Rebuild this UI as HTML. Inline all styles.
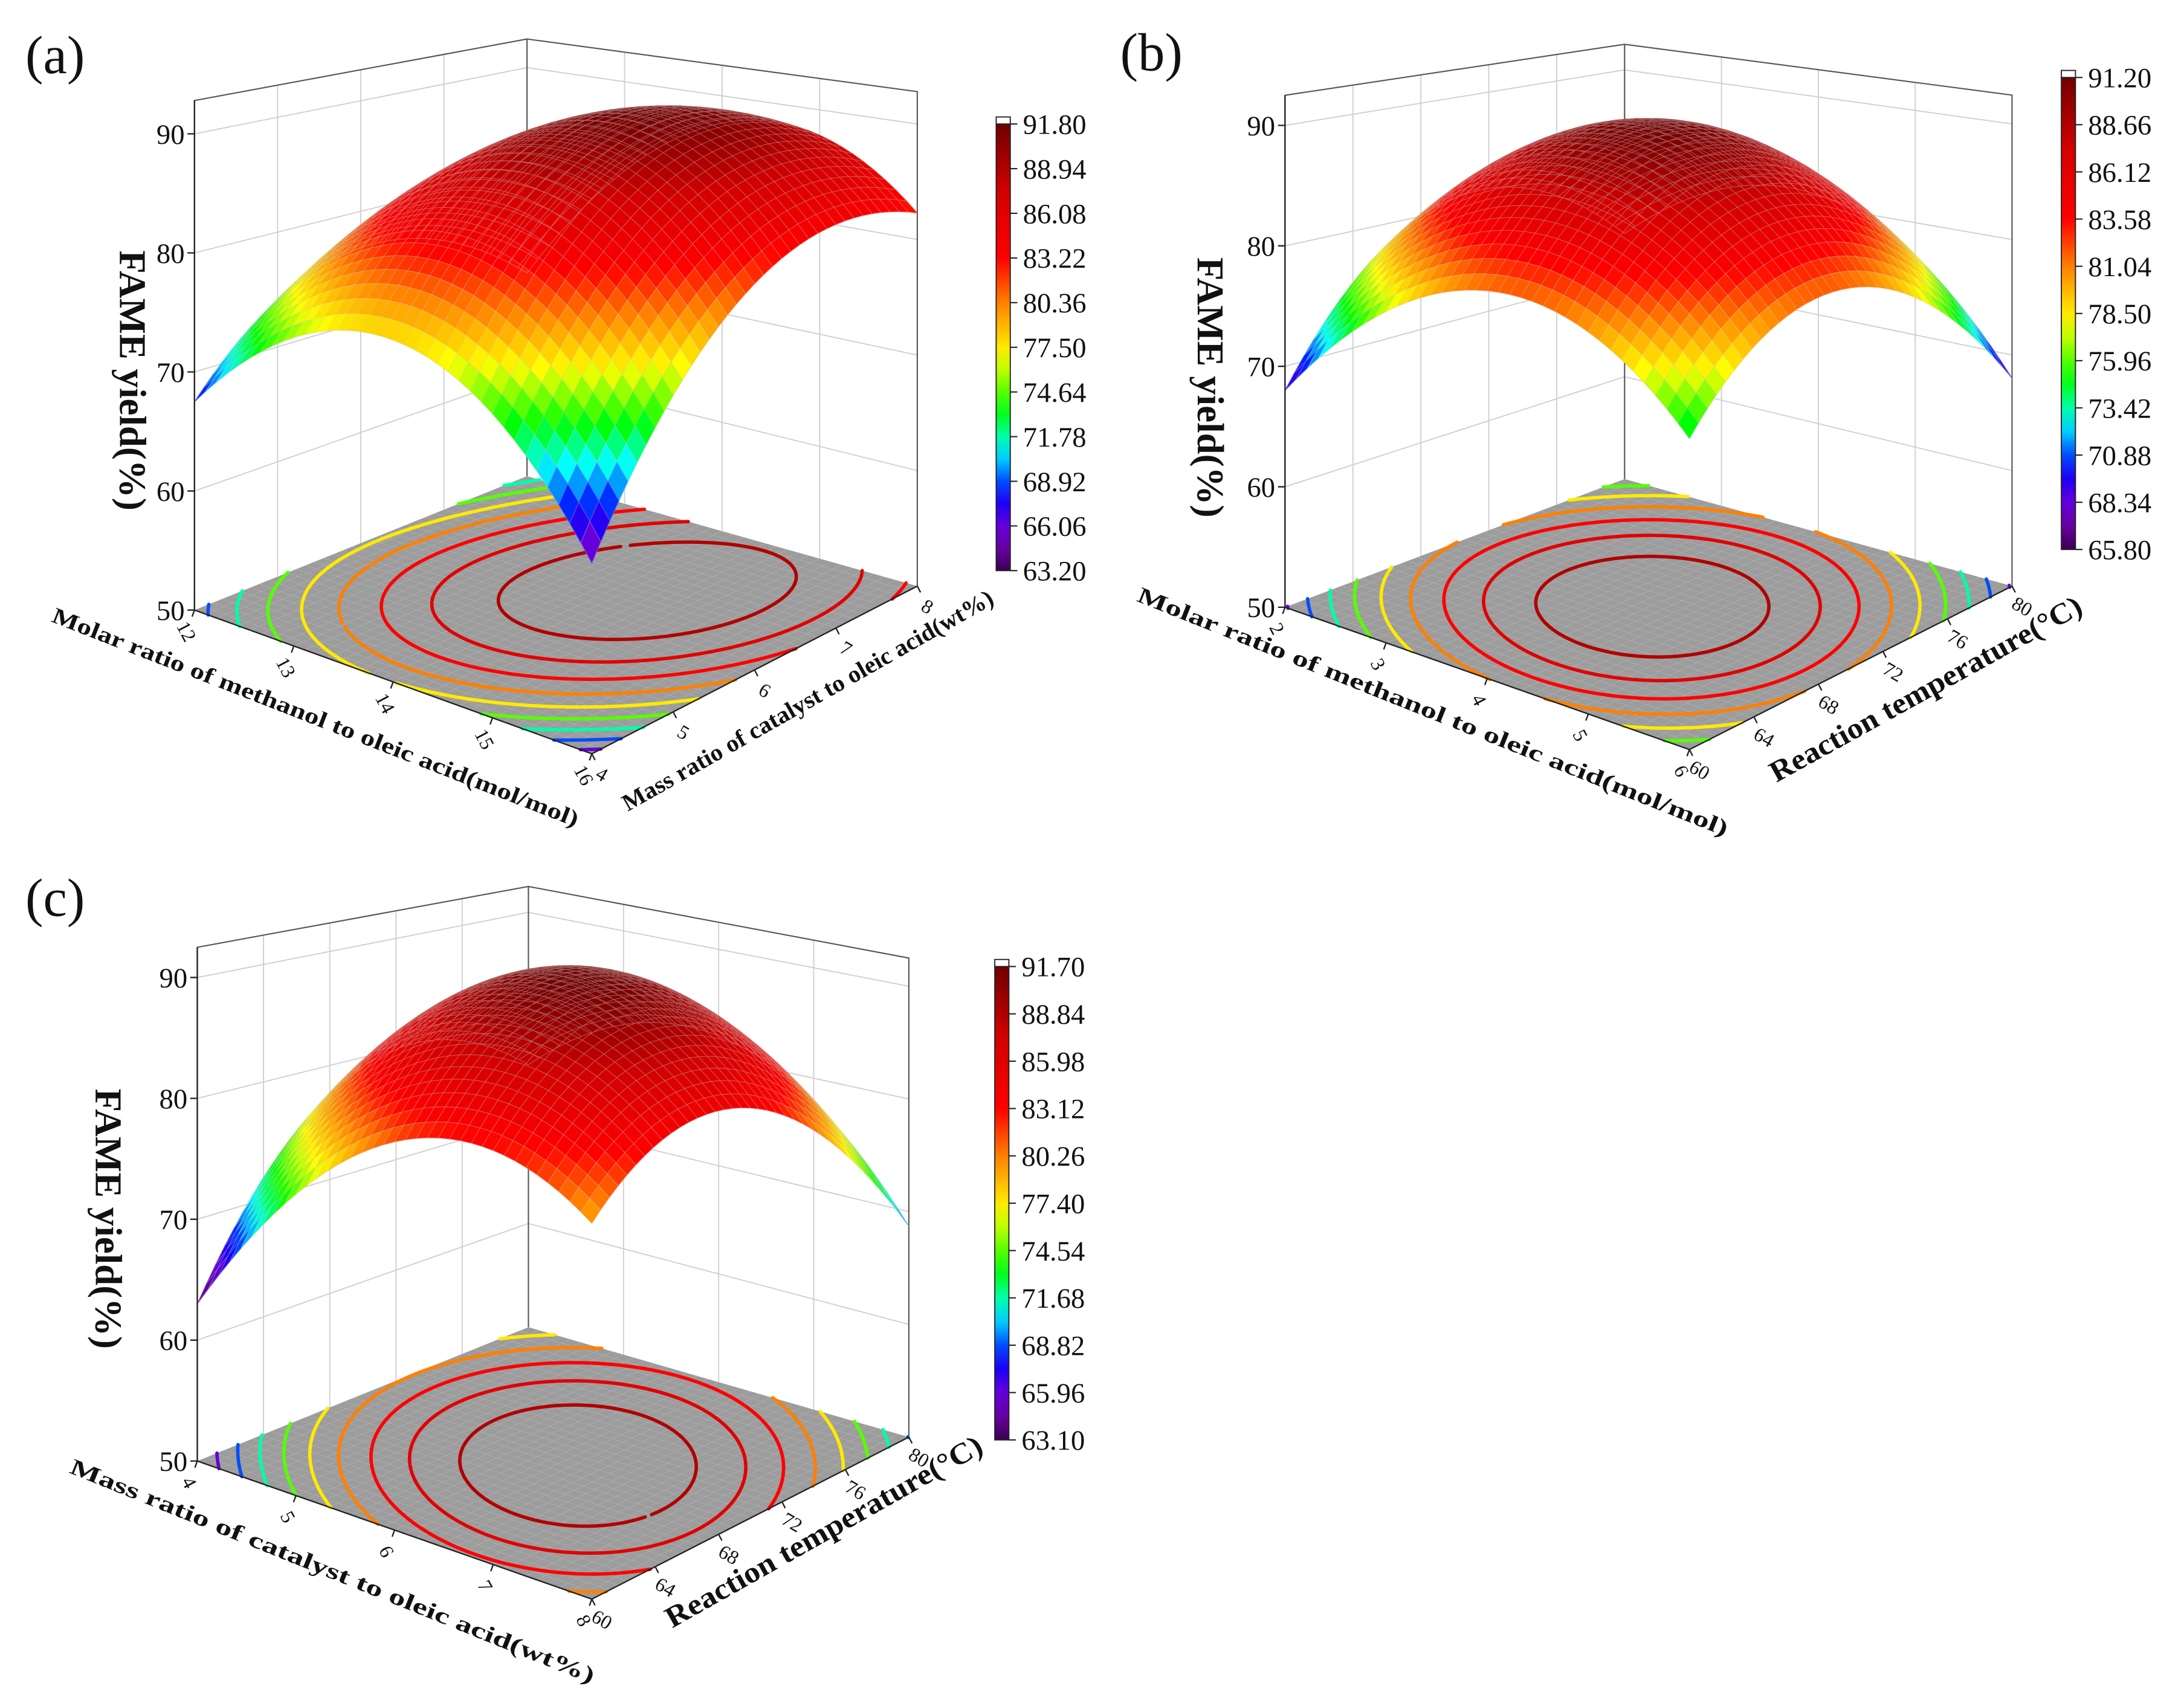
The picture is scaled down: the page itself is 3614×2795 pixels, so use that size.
<!DOCTYPE html>
<html><head><meta charset="utf-8"><style>
html,body{margin:0;padding:0;background:#fff;}
svg{display:block;}
text{font-family:"Liberation Serif",serif;fill:#111;}
</style></head><body>
<svg id="fig" xmlns="http://www.w3.org/2000/svg" width="3614" height="2795" viewBox="0 0 1550 1198.8">
<defs id="defs"></defs>
<rect width="1550" height="1198.8" fill="#fff"/>
</svg>
<script>
// ---- data ----
const aCoef = [90.5, 2.4, 5, -11.4, -8, 3.8];
const bCoef = [91, 0, 0, -10, -10, -3];
const cCoef = [91.5, 2.35, 0.5, -10, -10, -5.65];
const aBarTicks = ["63.20","66.06","68.92","71.78","74.64","77.50","80.36","83.22","86.08","88.94","91.80"];
const bBarTicks = ["65.80","68.34","70.88","73.42","75.96","78.50","81.04","83.58","86.12","88.66","91.20"];
const cBarTicks = ["63.10","65.96","68.82","71.68","74.54","77.40","80.26","83.12","85.98","88.84","91.70"];
const aUTicks = ["12","13","14","15","16"];
const aVTicks = ["4","5","6","7","8"];
const bUTicks = ["2","3","4","5","6"];
const bVTicks = ["60","64","68","72","76","80"];
const cUTicks = ["4","5","6","7","8"];
const cVTicks = ["60","64","68","72","76","80"];
const zTicks = [50,60,70,80,90];

const NS="http://www.w3.org/2000/svg";
const svg=document.getElementById('fig');
const defs=document.getElementById('defs');
function el(tag,attrs,parent){const e=document.createElementNS(NS,tag);for(const k in attrs)e.setAttribute(k,attrs[k]);(parent||svg).appendChild(e);return e;}

const cmapStops=[[0,[60,0,80]],[0.08,[128,0,208]],[0.17,[0,0,255]],[0.27,[0,255,255]],[0.36,[0,255,0]],[0.48,[255,255,0]],[0.6,[255,128,0]],[0.7,[255,0,0]],[0.85,[210,0,0]],[1,[112,0,0]]];
function cmap(t){t=Math.max(0,Math.min(1,t));for(let i=1;i<cmapStops.length;i++){if(t<=cmapStops[i][0]){const a=cmapStops[i-1],b=cmapStops[i];const f=(t-a[0])/(b[0]-a[0]);const c=a[1].map((x,k)=>Math.round(x+(b[1][k]-x)*f));return `rgb(${c[0]},${c[1]},${c[2]})`;}}return 'rgb(112,0,0)';}

function drawPanel(id,P,coef,barTicks,uTicks,vTicks){
  const g=el('g',{});
  
  
  const zmax=P.zmax;
  const vmin=parseFloat(barTicks[0]),vmax=parseFloat(barTicks[barTicks.length-1]);
  const proj=(s,t,z)=>{
    const w=[(1-s)*(1-t),s*(1-t),s*t,(1-s)*t];
    const x=w[0]*P.L[0]+w[1]*P.F[0]+w[2]*P.R[0]+w[3]*P.B[0];
    const y=w[0]*P.L[1]+w[1]*P.F[1]+w[2]*P.R[1]+w[3]*P.B[1];
    const sc=w[0]*P.sc[0]+w[1]*P.sc[1]+w[2]*P.sc[2]+w[3]*P.sc[3];
    return [x,y-(z-50)*sc];
  };
  const f=(s,t)=>{const u=2*s-1,v=2*t-1;return coef[0]+coef[1]*u+coef[2]*v+coef[3]*u*u+coef[4]*v*v+coef[5]*u*v;};
  const pt=p=>p[0].toFixed(2)+','+p[1].toFixed(2);
  let d='';
  for(let i=0;i<uTicks.length;i++){const s=i/(uTicks.length-1);d+='M'+pt(proj(s,1,50))+'L'+pt(proj(s,1,zmax));}
  for(let i=0;i<vTicks.length;i++){const t=i/(vTicks.length-1);d+='M'+pt(proj(0,t,50))+'L'+pt(proj(0,t,zmax));}
  for(const z of zTicks){if(z===50)continue;d+='M'+pt(proj(0,0,z))+'L'+pt(proj(0,1,z))+'L'+pt(proj(1,1,z));}
  const wg=el('path',{d:d,stroke:'#cfcfcf','stroke-width':0.8,fill:'none'},g);
  
  
  const box=el('path',{d:'M'+pt(proj(0,0,50))+'L'+pt(proj(0,0,zmax))+'L'+pt(proj(0,1,zmax))+'L'+pt(proj(1,1,zmax))+'L'+pt(proj(1,1,50))+'M'+pt(proj(0,1,50))+'L'+pt(proj(0,1,zmax)),stroke:'#555','stroke-width':0.9,fill:'none'},g);
  
  
  const fl=el('path',{d:'M'+pt(proj(0,0,50))+'L'+pt(proj(1,0,50))+'L'+pt(proj(1,1,50))+'L'+pt(proj(0,1,50))+'Z',fill:'#9c9c9c',stroke:'none'},g);
  
  
  d='';
  for(let i=1;i<36;i++){const s=i/36;d+='M'+pt(proj(s,0,50))+'L'+pt(proj(s,1,50))+'M'+pt(proj(0,s,50))+'L'+pt(proj(1,s,50));}
  const fg=el('path',{d:d,stroke:'#adadad','stroke-width':0.4,fill:'none'},g);
  
  
  const n=120;const grid=[];
  for(let i=0;i<=n;i++){grid.push([]);for(let j=0;j<=n;j++)grid[i].push(f(i/n,j/n));}
  for(let k=1;k<barTicks.length-1;k++){
    const lv=parseFloat(barTicks[k]);let cd='';
    for(let i=0;i<n;i++)for(let j=0;j<n;j++){
      const c=[[i,j],[i+1,j],[i+1,j+1],[i,j+1]];const pts=[];
      for(let e=0;e<4;e++){const a=c[e],b=c[(e+1)%4];const va=grid[a[0]][a[1]],vb=grid[b[0]][b[1]];
        if((va-lv)*(vb-lv)<0){const r=(lv-va)/(vb-va);pts.push([(a[0]+(b[0]-a[0])*r)/n,(a[1]+(b[1]-a[1])*r)/n]);}}
      if(pts.length>=2){cd+='M'+pt(proj(pts[0][0],pts[0][1],50))+'L'+pt(proj(pts[1][0],pts[1][1],50));}
      if(pts.length===4){cd+='M'+pt(proj(pts[2][0],pts[2][1],50))+'L'+pt(proj(pts[3][0],pts[3][1],50));}
    }
    const cp=el('path',{d:cd,stroke:cmap((lv-vmin)/(vmax-vmin)),'stroke-width':2.4,fill:'none','stroke-linecap':'round'},g);
    
    
  }
  let ed='M'+pt(proj(0,0,50))+'L'+pt(proj(1,0,50))+'L'+pt(proj(1,1,50));
  const nU=[-0.34,0.94],nV=[0.46,0.89];
  uTicks.forEach((lab,i)=>{const s=i/(uTicks.length-1);const p=proj(s,0,50);ed+='M'+pt(p)+'L'+pt([p[0]+nU[0]*5,p[1]+nU[1]*5]);
    const tx=el('text',{x:p[0]+nU[0]*16,y:p[1]+nU[1]*16+5,'font-size':14,'text-anchor':'middle',transform:`rotate(62 ${p[0]+nU[0]*16} ${p[1]+nU[1]*16})`},g);tx.textContent=lab;
    
    });
  vTicks.forEach((lab,i)=>{const t=i/(vTicks.length-1);const p=proj(1,t,50);ed+='M'+pt(p)+'L'+pt([p[0]+nV[0]*5,p[1]+nV[1]*5]);
    const tx=el('text',{x:p[0]+nV[0]*16,y:p[1]+nV[1]*16+5,'font-size':14,'text-anchor':'middle',transform:`rotate(30 ${p[0]+nV[0]*16} ${p[1]+nV[1]*16})`},g);tx.textContent=lab;
    
    });
  const ep=el('path',{d:ed,stroke:'#222','stroke-width':1,fill:'none'},g);
  
  
  const N=36;const quads=[];
  for(let i=0;i<N;i++)for(let j=0;j<N;j++)quads.push([i,j,(i-j)]);
  quads.sort((a,b)=>a[2]-b[2]);
  for(const q of quads){
    const s0=q[0]/N,s1=(q[0]+1)/N,t0=q[1]/N,t1=(q[1]+1)/N;
    const z=[f(s0,t0),f(s1,t0),f(s1,t1),f(s0,t1)];
    const avg=(z[0]+z[1]+z[2]+z[3])/4;
    const col=cmap((avg-vmin)/(vmax-vmin));
    const qp=el('path',{d:'M'+pt(proj(s0,t0,z[0]))+'L'+pt(proj(s1,t0,z[1]))+'L'+pt(proj(s1,t1,z[2]))+'L'+pt(proj(s0,t1,z[3]))+'Z',fill:col,stroke:col,'stroke-width':0.5},g);
    
    
  }
  d='';
  for(let i=0;i<=N;i+=1){
    let a='',b='';
    for(let j=0;j<=N;j++){a+=(j?'L':'M')+pt(proj(i/N,j/N,f(i/N,j/N)));b+=(j?'L':'M')+pt(proj(j/N,i/N,f(j/N,i/N)));}
    d+=a+b;
  }
  const mesh=el('path',{d:d,stroke:'rgba(200,200,200,0.45)','stroke-width':0.45,fill:'none'},g);
  
  
  let zd='M'+pt(proj(0,0,50))+'L'+pt(proj(0,0,zmax));
  zTicks.forEach(z=>{const p=proj(0,0,z);zd+='M'+pt(p)+'L'+pt([p[0]-5,p[1]]);
    const tx=el('text',{x:p[0]-7,y:p[1]+7,'font-size':20,'text-anchor':'end'},g);tx.textContent=String(z);
    
    });
  const za=el('path',{d:zd,stroke:'#222','stroke-width':1,fill:'none'},g);
  
  
  const gid='grad'+id;const lg=el('linearGradient',{id:gid,x1:0,y1:1,x2:0,y2:0},defs);
  for(let k=0;k<=20;k++)el('stop',{offset:k/20,'stop-color':cmap(k/20)},lg);
  const cb=P.cb;
  const cr=el('rect',{x:cb[0],y:cb[1],width:10,height:cb[2]-cb[1],fill:`url(#${gid})`,stroke:'#222','stroke-width':0.8},g);
  
  
  const cap=el('rect',{x:cb[0],y:cb[1]-5,width:10,height:5,fill:'#fff',stroke:'#222','stroke-width':0.8},g);
  
  
  barTicks.forEach((lab,k)=>{const y=cb[2]-(cb[2]-cb[1])*k/(barTicks.length-1);
    const tk=el('line',{x1:cb[0]+10,y1:y,x2:cb[0]+15,y2:y,stroke:'#222','stroke-width':0.9},g);
    
    
    const tx=el('text',{x:cb[0]+19,y:y+7,'font-size':20},g);tx.textContent=lab;
    
    });
  const zt=el('text',{x:P.zt[0],y:P.zt[1],'font-size':27,'font-weight':'bold','text-anchor':'middle',transform:`rotate(90 ${P.zt[0]} ${P.zt[1]})`},g);zt.textContent='FAME yield(%)';
  
  
  const xt=el('text',{x:P.xt[0],y:P.xt[1],'font-size':P.xt[4],'font-weight':'bold','text-anchor':'middle',textLength:P.xt[3],lengthAdjust:'spacingAndGlyphs',transform:`rotate(${P.xt[2]} ${P.xt[0]} ${P.xt[1]})`},g);xt.textContent=P.xlab;
  
  
  const yt=el('text',{x:P.yt[0],y:P.yt[1],'font-size':P.yt[4],'font-weight':'bold','text-anchor':'middle',textLength:P.yt[3],lengthAdjust:'spacingAndGlyphs',transform:`rotate(${P.yt[2]} ${P.yt[0]} ${P.yt[1]})`},g);yt.textContent=P.ylab;
  
  
  const pl=el('text',{x:P.lab[0],y:P.lab[1],'font-size':38},g);pl.textContent='('+id+')';
  
  
}

drawPanel('a',{L:[138,433],F:[420,535],R:[651,416],B:[374,338],sc:[8.45,9.2,8.2,7.25],zmax:92.8,
  cb:[707,88,405],zt:[85,270],lab:[18,52],
  xt:[222,514,21.4,400,16],xlab:'Molar ratio of methanol to oleic acid(mol/mol)',
  yt:[576,502,-29.6,300,17],ylab:'Mass ratio of catalyst to oleic acid(wt%)'},aCoef,aBarTicks,aUTicks,aVTicks);
drawPanel('b',{L:[912,431],F:[1199,532],R:[1428,416],B:[1153,340],sc:[8.55,9.2,8.2,7.26],zmax:92.5,
  cb:[1463,55,390],zt:[850,275],lab:[795,50],
  xt:[1015,510,21.8,450,16],xlab:'Molar ratio of methanol to oleic acid(mol/mol)',
  yt:[1370,495,-29,250,21],ylab:'Reaction temperature(°C)'},bCoef,bBarTicks,bUTicks,bVTicks);
drawPanel('c',{L:[140,1037],F:[420,1135],R:[645,1020],B:[375,942],sc:[8.58,9.2,8.0,7.36],zmax:92.5,
  cb:[706,686,1022],zt:[68,865],lab:[18,650],
  xt:[234,1120,22,400,16],xlab:'Mass ratio of catalyst to oleic acid(wt%)',
  yt:[588,1093,-29.5,255,21],ylab:'Reaction temperature(°C)'},cCoef,cBarTicks,cUTicks,cVTicks);
</script>
</body></html>
